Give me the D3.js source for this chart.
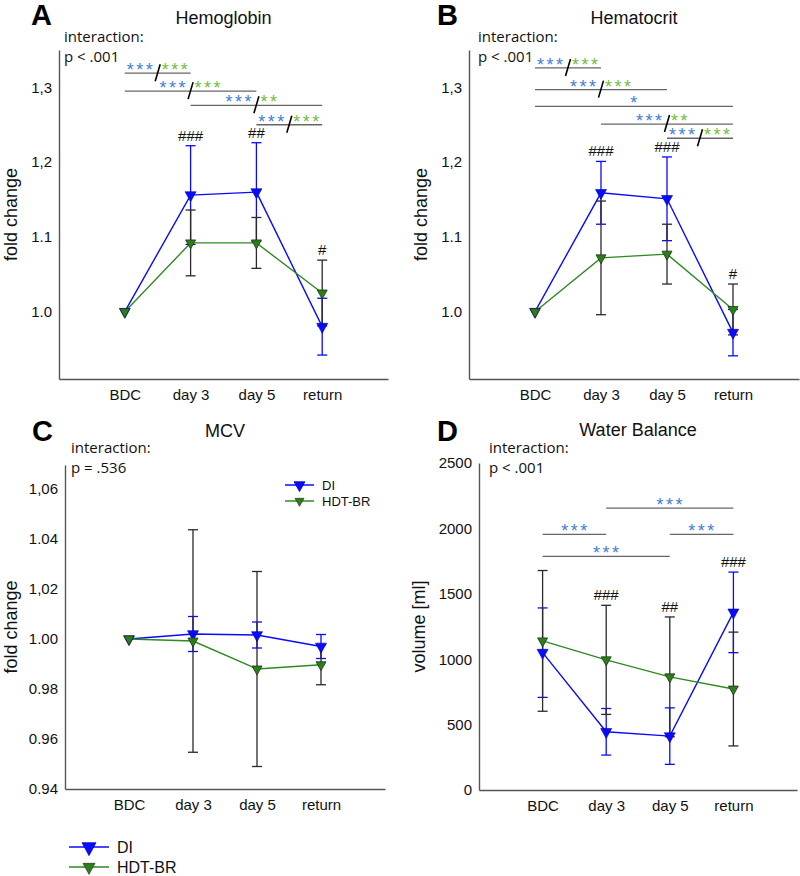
<!DOCTYPE html>
<html>
<head>
<meta charset="utf-8">
<script src="https://cdn.jsdelivr.net/npm/d3@7/dist/d3.min.js"></script>
<style>
  body { margin: 0; background: #fff; }
  svg { display: block; }
</style>
</head>
<body>
<script>
// ---------------- DATA ----------------
const categories = ["BDC", "day 3", "day 5", "return"];
const seriesNames = ["DI", "HDT-BR"];

// A – Hemoglobin (fold change)
const hbDI = [1.000, 1.156, 1.160, 0.980];
const hbDIerr = [0, 0.066, 0.066, 0.038];
const hbHDT = [1.000, 1.092, 1.092, 1.025];
const hbHDTerr = [0, 0.044, 0.034, 0.044];
const hbTicks = [1.0, 1.1, 1.2, 1.3];
const hbTickLabels = ["1.0", "1.1", "1,2", "1,3"];
const hbHash = ["", "###", "##", "#"];
const hbSig = [
  ["BDC", "day 3", 1.319, "***", "***"],
  ["BDC", "day 5", 1.295, "***", "***"],
  ["day 3", "return", 1.276, "***", "**"],
  ["day 5", "return", 1.250, "***", "***"]
];

// B – Hematocrit (fold change)
const hctDI = [1.000, 1.159, 1.151, 0.972];
const hctDIerr = [0, 0.042, 0.056, 0.031];
const hctHDT = [1.000, 1.072, 1.077, 1.003];
const hctHDTerr = [0, 0.076, 0.040, 0.034];
const hctTicks = [1.0, 1.1, 1.2, 1.3];
const hctTickLabels = ["1.0", "1.1", "1,2", "1,3"];
const hctHash = ["", "###", "###", "#"];
const hctSig = [
  ["BDC", "day 3", 1.326, "***", "***"],
  ["BDC", "day 5", 1.297, "***", "***"],
  ["BDC", "return", 1.2745, "*", ""],
  ["day 3", "return", 1.251, "***", "**"],
  ["day 5", "return", 1.232, "***", "***"]
];

// C – MCV (fold change)
const mcvDI = [1.000, 1.002, 1.0016, 0.997];
const mcvDIerr = [0, 0.007, 0.0052, 0.0048];
const mcvHDT = [1.000, 0.9992, 0.988, 0.9897];
const mcvHDTerr = [0, 0.0445, 0.039, 0.008];
const mcvTicks = [0.94, 0.96, 0.98, 1.00, 1.02, 1.04, 1.06];
const mcvTickLabels = ["0.94", "0.96", "0.98", "1.00", "1,02", "1.04", "1,06"];
const mcvHash = ["", "", "", ""];
const mcvSig = [];

// D – Water balance (ml)
const wbDI = [1050, 445, 412, 1358];
const wbDIerr = [342, 178, 216, 308];
const wbHDT = [1140, 995, 865, 772];
const wbHDTerr = [538, 417, 458, 435];
const wbTicks = [0, 500, 1000, 1500, 2000, 2500];
const wbTickLabels = ["0", "500", "1000", "1500", "2000", "2500"];
const wbHash = ["", "###", "##", "###"];
const wbSig = [
  ["day 3", "return", 2155, "***", ""],
  ["BDC", "day 3", 1954, "***", ""],
  ["day 5", "return", 1954, "***", ""],
  ["BDC", "day 5", 1786, "***", ""]
];

// ---------------- STYLE ----------------
const BLUE = "#0a0aff";
const GREEN = "#2f8a22";
const GREEN_FILL = "#2e7d1c";
const ERR_DARK = "#2a2a2a";
const STAR_BLUE = "#3f7fd6";
const STAR_GREEN = "#72bd3f";
const AXIS = "#555";
const FONT = "'Liberation Sans', Arial, sans-serif";
const FONT2 = "'Open Sans', sans-serif";

const svg = d3.select("body").append("svg")
  .attr("width", 800).attr("height", 876)
  .style("font-family", FONT);

function tri(w, h) {
  return `M${-w/2},${-h/3}L${w/2},${-h/3}L0,${2*h/3}Z`;
}

function panel(o) {
  const g = svg.append("g");
  const x = d3.scalePoint().domain(categories).range([o.x0, o.x1]).padding(1);
  const y = d3.scaleLinear().domain(o.domain).range([o.yb, o.yt]);

  // axes
  const ya = g.append("g").attr("transform", `translate(${o.x0},0)`)
    .call(d3.axisLeft(y).tickValues(o.ticks)
      .tickFormat((d, i) => o.tickLabels[i]).tickSize(0).tickPadding(7));
  const xa = g.append("g").attr("transform", `translate(0,${o.yb})`)
    .call(d3.axisBottom(x).tickSize(0).tickPadding(10));
  [ya, xa].forEach(a => {
    a.select(".domain").attr("stroke", AXIS).attr("stroke-width", 1.4);
    a.selectAll("text").attr("font-family", FONT).attr("font-size", 15).attr("fill", "#111");
  });

  // letter, title, interaction text
  g.append("text").attr("x", o.letterX).attr("y", o.letterY)
    .attr("font-size", 29).attr("font-weight", "bold").attr("fill", "#000").text(o.letter);
  g.append("text").attr("x", (o.x0 + o.x1) / 2).attr("y", o.titleY)
    .attr("text-anchor", "middle").attr("font-size", 18).attr("fill", "#111").text(o.title);
  g.append("text").attr("x", o.interX).attr("y", o.interY)
    .attr("font-family", FONT2).attr("font-size", 15).attr("fill", "#111").text("interaction:");
  g.append("text").attr("x", o.interX).attr("y", o.interY + 20)
    .attr("font-family", FONT2).attr("font-size", 15).attr("fill", "#111").text(o.pText);

  // y label
  g.append("text")
    .attr("transform", `translate(${o.ylabX},${(o.yt + o.yb) / 2}) rotate(-90)`)
    .attr("text-anchor", "middle").attr("dominant-baseline", "central")
    .attr("font-size", 18).attr("fill", "#111").text(o.ylab);

  const sets = [
    { v: o.di, e: o.diErr, col: BLUE, errCol: BLUE },
    { v: o.hdt, e: o.hdtErr, col: GREEN, errCol: ERR_DARK }
  ];

  // error bars
  sets.forEach(s => {
    categories.forEach((c, i) => {
      if (!s.e[i]) return;
      const cx = x(c), t = y(s.v[i] + s.e[i]), b = y(s.v[i] - s.e[i]);
      g.append("line").attr("x1", cx).attr("x2", cx).attr("y1", t).attr("y2", b)
        .attr("stroke", s.errCol).attr("stroke-width", 1.3);
      [t, b].forEach(yy => g.append("line").attr("x1", cx - 5).attr("x2", cx + 5)
        .attr("y1", yy).attr("y2", yy).attr("stroke", s.errCol).attr("stroke-width", 1.3));
    });
  });

  // lines
  const line = d3.line().x((d, i) => x(categories[i])).y(d => y(d));
  sets.forEach(s => {
    g.append("path").attr("d", line(s.v)).attr("fill", "none")
      .attr("stroke", s.col).attr("stroke-width", 1.4);
  });

  // markers
  o.di.forEach((v, i) => g.append("path").attr("d", tri(11, 10))
    .attr("transform", `translate(${x(categories[i])},${y(v)})`)
    .attr("fill", BLUE).attr("stroke", "#0000aa").attr("stroke-width", 0.6));
  o.hdt.forEach((v, i) => g.append("path").attr("d", tri(10, 9))
    .attr("transform", `translate(${x(categories[i])},${y(v)})`)
    .attr("fill", GREEN_FILL).attr("stroke", "#1b3a12").attr("stroke-width", 0.8));

  // hash marks
  categories.forEach((c, i) => {
    if (!o.hash[i]) return;
    const top = Math.min(y(o.di[i] + o.diErr[i]), y(o.hdt[i] + o.hdtErr[i]));
    g.append("text").attr("x", x(c)).attr("y", top - 5).attr("text-anchor", "middle")
      .attr("font-size", 15).attr("fill", "#111").text(o.hash[i]);
  });

  // significance brackets
  o.sig.forEach(s => {
    const xa1 = x(s[0]), xa2 = x(s[1]), ly = y(s[2]);
    const mid = (xa1 + xa2) / 2;
    g.append("line").attr("x1", xa1).attr("x2", xa2).attr("y1", ly).attr("y2", ly)
      .attr("stroke", "#666").attr("stroke-width", 1.3);
    const starAttrs = t => t.attr("y", ly + 3).attr("font-size", 18)
      .attr("letter-spacing", 2.5);
    if (s[4]) {
      starAttrs(g.append("text")).attr("x", mid - 2.5).attr("text-anchor", "end")
        .attr("fill", STAR_BLUE).text(s[3]);
      starAttrs(g.append("text")).attr("x", mid + 4).attr("text-anchor", "start")
        .attr("fill", STAR_GREEN).text(s[4]);
      g.append("line").attr("x1", mid + 2.5).attr("x2", mid - 2.5)
        .attr("y1", ly - 9).attr("y2", ly + 8).attr("stroke", "#000").attr("stroke-width", 1.6);
    } else {
      starAttrs(g.append("text")).attr("x", mid + 1).attr("text-anchor", "middle")
        .attr("fill", STAR_BLUE).text(s[3]);
    }
  });

  return { g, x, y };
}

panel({
  letter: "A", letterX: 31, letterY: 25, title: "Hemoglobin", titleY: 24,
  interX: 64, interY: 42, pText: "p < .001",
  x0: 59, x1: 388, yt: 50, yb: 379, domain: [0.91, 1.35],
  ticks: hbTicks, tickLabels: hbTickLabels, ylab: "fold change", ylabX: 11,
  di: hbDI, diErr: hbDIerr, hdt: hbHDT, hdtErr: hbHDTerr, hash: hbHash, sig: hbSig
});
panel({
  letter: "B", letterX: 437, letterY: 25, title: "Hematocrit", titleY: 24,
  interX: 478, interY: 42, pText: "p < .001",
  x0: 469, x1: 799, yt: 50, yb: 379, domain: [0.91, 1.35],
  ticks: hctTicks, tickLabels: hctTickLabels, ylab: "fold change", ylabX: 421,
  di: hctDI, diErr: hctDIerr, hdt: hctHDT, hdtErr: hctHDTerr, hash: hctHash, sig: hctSig
});
panel({
  letter: "C", letterX: 32, letterY: 441, title: "MCV", titleY: 437,
  interX: 71, interY: 453, pText: "p = .536",
  x0: 65, x1: 385, yt: 465, yb: 789, domain: [0.94, 1.0696],
  ticks: mcvTicks, tickLabels: mcvTickLabels, ylab: "fold change", ylabX: 11,
  di: mcvDI, diErr: mcvDIerr, hdt: mcvHDT, hdtErr: mcvHDTerr, hash: mcvHash, sig: mcvSig
});
panel({
  letter: "D", letterX: 437, letterY: 441, title: "Water Balance", titleY: 436,
  interX: 489, interY: 453, pText: "p < .001",
  x0: 479, x1: 797, yt: 463, yb: 790, domain: [0, 2500],
  ticks: wbTicks, tickLabels: wbTickLabels, ylab: "volume [ml]", ylabX: 419,
  di: wbDI, diErr: wbDIerr, hdt: wbHDT, hdtErr: wbHDTerr, hash: wbHash, sig: wbSig
});

// legends
function legend(lx, ly, gap, len, fs, tw, th) {
  const cols = [[BLUE, BLUE, "#0000aa"], [GREEN, GREEN_FILL, "#1b3a12"]];
  seriesNames.forEach((n, i) => {
    const yy = ly + i * gap;
    svg.append("line").attr("x1", lx).attr("x2", lx + len).attr("y1", yy).attr("y2", yy)
      .attr("stroke", cols[i][0]).attr("stroke-width", 1.5);
    svg.append("path").attr("d", tri(i ? tw - 2 : tw, i ? th - 2 : th))
      .attr("transform", `translate(${lx + len / 2},${yy})`)
      .attr("fill", cols[i][1]).attr("stroke", cols[i][2]).attr("stroke-width", 0.7);
    svg.append("text").attr("x", lx + len + 8).attr("y", yy + fs * 0.36)
      .attr("font-size", fs).attr("fill", "#111").text(n);
  });
}
legend(285, 485, 16, 29, 13, 11, 10);
legend(69, 847, 20, 40, 16, 14, 13);
</script>
</body>
</html>
